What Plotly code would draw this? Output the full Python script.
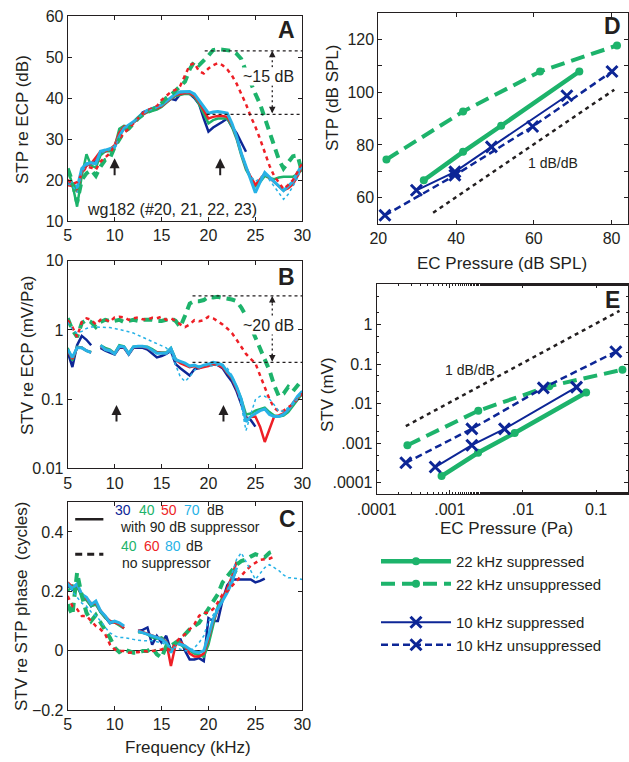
import math
import plotly.graph_objects as go

# ---------------- data ----------------
FREQ = [5.0, 5.5, 6.0, 6.5, 7.0, 7.5, 8.0, 8.5, 9.0, 9.5,
        10.0, 10.5, 11.0, 11.5, 12.0, 12.5, 13.0, 13.5, 14.0, 14.5,
        15.0, 15.5, 16.0, 16.5, 17.0, 17.5, 18.0, 18.5, 19.0, 19.5,
        20.0, 20.5, 21.0, 21.5, 22.0, 22.5, 23.0, 23.5, 24.0, 24.5,
        25.0, 25.5, 26.0, 26.5, 27.0, 27.5, 28.0, 28.5, 29.0, 29.5, 30.0]
N = None

# Panel A: STP re ECP (dB)
A_SUP_30 = [19.0, 18.8, 17.5, 22.0, 23.5, 24.0, 24.5, 26.5, 27.0, 27.5,
            28.0, 31.0, 32.5, 33.2, 34.0, 35.0, 36.5, 37.0, 37.4, 37.8,
            38.2, 39.0, 39.8, 39.5, 41.0, 41.2, 41.0, 40.0, 38.5, 35.0,
            31.8, 32.8, 33.4, 34.2, 35.0, 33.0, 31.4, 29.0, 26.9, N,
            N, N, N, N, N, N, N, N, N, N, N]
A_SUP_40 = [22.5, 19.0, 13.5, 21.0, 26.3, 23.5, 23.0, 26.0, 27.0, 27.0,
            28.0, 32.5, 33.2, 33.0, 34.0, 35.0, 36.0, 36.5, 36.8, 37.2,
            37.8, 38.8, 39.8, 40.5, 40.8, 41.0, 41.0, 40.3, 38.5, 36.0,
            33.8, 34.6, 35.0, 35.0, 35.0, 33.0, 30.0, 26.0, 22.5, 20.5,
            18.5, 19.5, 21.0, 20.5, 20.2, 20.6, 20.8, 20.8, 20.8, 21.5, 22.5]
A_SUP_50 = [18.8, 18.5, 17.2, 22.0, 23.5, 24.0, 25.5, 27.0, 27.0, 27.5,
            28.5, 31.5, 33.0, 33.2, 34.0, 35.0, 36.0, 36.8, 37.2, 37.5,
            38.0, 39.0, 40.0, 40.8, 41.0, 41.2, 41.2, 40.5, 39.0, 37.0,
            35.0, 35.4, 35.6, 35.6, 35.4, 33.5, 30.4, 26.5, 23.0, 20.8,
            18.8, 20.2, 21.6, 20.5, 19.5, 18.5, 17.5, 18.0, 19.0, 21.0, 23.5]
A_SUP_70 = [19.6, 19.2, 18.0, 22.8, 24.0, 24.2, 24.0, 27.0, 27.3, 27.7,
            28.0, 30.6, 32.6, 33.4, 34.2, 35.3, 36.3, 37.0, 37.5, 37.9,
            38.3, 39.2, 40.0, 41.0, 41.5, 41.6, 41.6, 41.0, 39.5, 37.9,
            36.3, 36.6, 36.7, 36.5, 36.3, 33.8, 30.6, 26.5, 23.3, 20.0,
            16.9, 19.5, 21.8, 20.7, 19.6, 18.5, 17.4, 18.5, 19.6, 21.8, 24.0]
A_UNS_40 = [22.8, 19.6, 14.5, 20.0, 21.6, 22.4, 21.0, 23.3, 24.9, 25.3,
            28.0, 30.0, 31.8, 32.5, 33.8, 35.0, 35.9, 36.5, 37.0, 37.8,
            38.7, 40.0, 40.7, 41.8, 42.6, 44.0, 47.0, 48.9, 48.0, 49.0,
            50.3, 51.7, 51.9, 51.8, 51.7, 51.5, 50.8, 49.5, 46.5, 43.5,
            41.0, 38.5, 35.0, 31.5, 28.0, 25.0, 22.8, 24.5, 25.8, 26.0, 21.6]
A_UNS_60 = [20.0, 19.0, 19.5, 21.5, 23.3, 23.0, 22.5, 24.5, 25.5, 26.5,
            28.5, 30.0, 31.5, 32.5, 33.8, 35.0, 36.3, 37.0, 37.5, 38.0,
            39.5, 40.5, 41.5, 42.0, 43.0, 45.5, 48.0, 48.5, 46.5, 46.0,
            47.2, 48.0, 48.5, 48.0, 47.0, 45.5, 43.5, 41.0, 38.5, 35.5,
            33.0, 30.0, 26.5, 23.5, 21.0, 19.5, 17.8, 18.8, 20.0, 22.0, 24.0]
A_UNS_80 = [19.0, 18.6, 17.0, 22.0, 23.6, 24.0, 23.8, 26.6, 27.0, 27.4,
            27.8, 30.4, 32.4, 33.2, 34.0, 35.1, 36.1, 36.8, 37.3, 37.7,
            38.1, 39.0, 39.8, 40.8, 41.3, 41.4, 41.4, 40.8, 39.3, 37.7,
            36.1, 36.4, 36.5, 36.3, 36.1, 33.6, 30.4, 26.3, 23.0, 21.0,
            19.6, 20.5, 21.5, 20.0, 18.5, 16.8, 15.3, 16.5, 18.5, 20.5, 23.5]

# Panel B: STV re ECP (mV/Pa)
B_SUP_30 = [0.48, 0.29, 0.60, 0.82, 0.72, 0.60, N, 0.55, 0.50, 0.47,
            0.44, 0.55, 0.55, 0.44, 0.55, 0.55, 0.55, 0.52, 0.45, 0.40,
            0.42, 0.45, 0.50, 0.32, 0.28, 0.25, 0.22, 0.27, 0.28, 0.30,
            0.31, 0.32, 0.31, 0.28, 0.22, 0.18, 0.13, 0.085, 0.055, 0.05,
            0.04, N, N, N, N, N, N, N, N, N, N]
B_SUP_40 = [0.55, 0.36, 0.57, 0.56, 0.50, 0.48, N, 0.60, 0.55, 0.52,
            0.46, 0.60, 0.58, 0.46, 0.57, 0.58, 0.58, 0.57, 0.53, 0.48,
            0.47, 0.47, 0.55, 0.38, 0.34, 0.32, 0.30, 0.30, 0.29, 0.30,
            0.31, 0.32, 0.32, 0.30, 0.24, 0.20, 0.15, 0.10, 0.06, 0.062,
            0.068, 0.072, 0.075, 0.065, 0.058, 0.056, 0.058, 0.065, 0.08, 0.10, 0.12]
B_SUP_50 = [0.50, 0.38, 0.55, 0.55, 0.50, 0.47, N, 0.58, 0.52, 0.50,
            0.45, 0.57, 0.56, 0.45, 0.56, 0.57, 0.57, 0.55, 0.50, 0.47,
            0.46, 0.46, 0.53, 0.37, 0.33, 0.31, 0.29, 0.30, 0.28, 0.29,
            0.30, 0.32, 0.31, 0.29, 0.24, 0.20, 0.14, 0.095, 0.05, 0.055,
            0.056, 0.04, 0.024, 0.038, 0.056, 0.058, 0.062, 0.07, 0.088, 0.105, 0.125]
B_SUP_70 = [0.52, 0.40, 0.55, 0.55, 0.50, 0.47, N, 0.60, 0.52, 0.50,
            0.45, 0.58, 0.57, 0.45, 0.57, 0.58, 0.58, 0.56, 0.50, 0.46,
            0.46, 0.46, 0.54, 0.37, 0.35, 0.33, 0.30, 0.31, 0.29, 0.31,
            0.32, 0.34, 0.33, 0.31, 0.25, 0.21, 0.15, 0.10, 0.047, 0.056,
            0.062, 0.068, 0.072, 0.06, 0.056, 0.056, 0.06, 0.07, 0.087, 0.11, 0.13]
B_UNS_40 = [1.47, 1.0, 0.79, 1.25, 1.4, 1.3, 1.1, 1.3, 1.4, 1.35,
            1.35, 1.4, 1.3, 1.35, 1.4, 1.35, 1.4, 1.4, 1.4, 1.35,
            1.35, 1.4, 1.47, 1.35, 1.1, 1.6, 2.4, 2.6, 2.6, 2.7,
            3.0, 2.95, 3.0, 2.9, 2.85, 2.75, 2.6, 2.1, 1.6, 1.1,
            0.75, 0.52, 0.38, 0.26, 0.16, 0.11, 0.12, 0.15, 0.13, 0.16, 0.19]
B_UNS_60 = [1.38, 1.1, 0.79, 1.3, 1.47, 1.4, 1.2, 1.4, 1.42, 1.3,
            1.52, 1.55, 1.52, 1.4, 1.47, 1.52, 1.42, 1.4, 1.5, 1.47,
            1.55, 1.4, 1.47, 1.35, 1.2, 1.1, 1.2, 1.38, 1.33, 1.38,
            1.55, 1.47, 1.33, 1.2, 1.05, 0.9, 0.72, 0.56, 0.45, 0.38,
            0.33, 0.22, 0.15, 0.10, 0.075, 0.066, 0.068, 0.075, 0.085, 0.10, 0.12]
B_UNS_80 = [1.3, 1.0, 0.9, 0.95, 1.05, 1.1, 1.1, 1.1, 1.1, 1.08,
            1.05, 1.02, 0.98, 0.94, 0.9, 0.84, 0.78, 0.73, 0.68, 0.63,
            0.6, 0.55, 0.46, 0.31, 0.21, 0.18, 0.21, 0.26, 0.3, 0.31,
            0.3, 0.3, 0.31, 0.3, 0.28, 0.22, 0.15, 0.08, 0.035, 0.06,
            0.098, 0.11, 0.11, 0.10, 0.083, 0.066, 0.068, 0.075, 0.087, 0.10, 0.13]

# Panel C: STV re STP phase (cycles)
C_SUP_30 = [0.22, 0.205, 0.22, 0.185, 0.175, 0.15, 0.16, 0.13, 0.113, 0.092,
            0.098, 0.09, 0.08, N, N, 0.066, 0.07, 0.078, 0.02, 0.05,
            0.027, 0.05, 0.0, 0.02, 0.04, 0.0, -0.03, -0.03, -0.025, -0.035,
            0.11, 0.10, 0.10, 0.17, 0.22, 0.24, 0.24, 0.242, 0.24, 0.24,
            0.23, 0.235, 0.243, N, N, N, N, N, N, N, N]
C_SUP_40 = [0.20, 0.22, 0.215, 0.185, 0.17, 0.15, 0.155, 0.13, 0.11, 0.10,
            0.095, 0.085, 0.075, N, N, 0.062, 0.06, 0.055, 0.045, 0.04,
            0.045, 0.03, 0.0, 0.025, 0.02, 0.01, 0.0, -0.01, -0.015, -0.02,
            0.02, 0.09, 0.15, 0.18, 0.20, 0.24, 0.27, N, N, N,
            N, N, N, N, N, N, N, N, N, N, N]
C_SUP_50 = [0.23, 0.215, 0.22, 0.19, 0.175, 0.16, 0.16, 0.135, 0.115, 0.10,
            0.095, 0.09, 0.075, N, N, 0.068, 0.062, 0.058, 0.05, 0.045,
            0.04, 0.03, -0.052, 0.02, 0.03, 0.015, -0.01, -0.02, -0.02, -0.01,
            0.04, 0.10, 0.135, 0.17, 0.21, 0.25, 0.30, N, N, N,
            N, N, N, N, N, N, N, N, N, N, N]
C_SUP_70 = [0.224, 0.21, 0.225, 0.19, 0.18, 0.156, 0.167, 0.134, 0.117, 0.094,
            0.10, 0.094, 0.083, N, N, 0.066, 0.06, 0.056, 0.05, 0.045,
            0.038, 0.027, -0.007, 0.027, 0.022, 0.016, 0.005, -0.004, -0.007, 0.0,
            0.05, 0.106, 0.14, 0.167, 0.196, 0.23, 0.28, N, N, N,
            N, N, N, N, N, N, N, N, N, N, N]
C_UNS_40 = [0.156, 0.12, 0.263, 0.185, 0.128, 0.10, 0.12, 0.094, 0.07, 0.044,
            0.01, -0.005, 0.004, -0.001, -0.007, -0.007, -0.001, -0.001, 0.01, -0.012,
            -0.024, 0.015, 0.016, 0.027, 0.038, 0.055, 0.072, 0.083, 0.094, 0.117,
            0.14, 0.162, 0.19, 0.23, 0.25, 0.274, 0.29, 0.302, 0.307, 0.317,
            0.325, 0.32, 0.315, 0.33, 0.336, N, N, N, N, N, N]
C_UNS_60 = [0.184, 0.15, 0.14, 0.117, 0.117, 0.10, 0.083, 0.072, 0.055, 0.021,
            0.004, -0.001, -0.001, -0.007, -0.007, -0.005, -0.001, -0.003, -0.001, 0.002,
            0.004, 0.01, -0.001, 0.027, 0.044, 0.055, 0.072, 0.089, 0.117, 0.128,
            0.128, 0.14, 0.162, 0.19, 0.20, 0.218, 0.235, 0.252, 0.27, 0.286,
            0.297, 0.306, 0.308, 0.31, 0.317, N, N, N, N, N, N]
C_UNS_80 = [0.23, 0.20, 0.18, 0.16, 0.15, 0.13, 0.117, 0.10, 0.078, 0.06,
            0.05, 0.044, 0.044, 0.04, 0.038, 0.035, 0.033, 0.033, 0.033, 0.03,
            0.027, 0.02, 0.016, 0.01, 0.005, 0.0, -0.001, 0.01, 0.027, 0.05,
            0.10, 0.12, 0.15, 0.17, 0.20, 0.26, 0.308, 0.33, 0.30, 0.27,
            0.24, 0.26, 0.28, 0.29, 0.28, 0.27, 0.255, 0.246, 0.245, 0.243, 0.24]

# Panel D: STP (dB SPL) vs EC pressure (dB SPL)
D_EC_22_SUP = [31.7, 41.8, 51.6, 71.7]
D_STP_22_SUP = [66.6, 77.4, 87.3, 107.9]
D_EC_22_UNS = [22.1, 41.8, 61.6, 81.4]
D_STP_22_UNS = [74.5, 92.7, 107.9, 117.8]
D_EC_10_SUP = [29.8, 39.7, 49.1, 68.5]
D_STP_10_SUP = [62.8, 69.8, 79.3, 98.7]
D_EC_10_UNS = [21.7, 39.7, 59.7, 80.1]
D_STP_10_UNS = [53.3, 68.5, 87.0, 107.9]
D_REF_X = [34.1, 80.7]
D_REF_Y = [54.3, 101.0]

# Panel E: STV (mV) vs EC pressure (Pa)
E_EC_22_SUP = [7.7e-4, 2.43e-3, 7.7e-3, 0.073]
E_STV_22_SUP = [1.48e-4, 5.75e-4, 1.82e-3, 0.019]
E_EC_22_UNS = [2.63e-4, 2.45e-3, 0.0229, 0.229]
E_STV_22_UNS = [8.9e-4, 6.6e-3, 0.0275, 0.072]
E_EC_10_SUP = [6.3e-4, 2.0e-3, 5.6e-3, 0.054]
E_STV_10_SUP = [2.5e-4, 8.9e-4, 2.3e-3, 0.026]
E_EC_10_UNS = [2.5e-4, 2.0e-3, 0.019, 0.186]
E_STV_10_UNS = [3.2e-4, 2.3e-3, 0.025, 0.204]
E_REF_X = [2.5e-4, 0.209]
E_REF_Y = [2.7e-3, 2.2]

# ---------------- style ----------------
GREEN = "#1db36b"
RED = "#ee1f26"
NAVY = "#0d2696"
CYAN = "#27b2e6"
INK = "#231f20"
FONT = "Liberation Sans, Arial, sans-serif"

fig = go.Figure()

SOLID = [("30", NAVY, 2.5), ("40", GREEN, 2.5), ("50", RED, 2.5), ("70", CYAN, 3)]
DASHED = [("40", GREEN, 4, "9px,6px"), ("60", RED, 2.5, "4px,4px"), ("80", CYAN, 1.5, "3px,3px")]

panels = [
    ("x", "y", [A_SUP_30, A_SUP_40, A_SUP_50, A_SUP_70], [A_UNS_40, A_UNS_60, A_UNS_80]),
    ("x2", "y2", [B_SUP_30, B_SUP_40, B_SUP_50, B_SUP_70], [B_UNS_40, B_UNS_60, B_UNS_80]),
    ("x3", "y3", [C_SUP_30, C_SUP_40, C_SUP_50, C_SUP_70], [C_UNS_40, C_UNS_60, C_UNS_80]),
]
for xa, ya, sups, unss in panels:
    for (lvl, col, w), ys in zip(SOLID, sups):
        fig.add_trace(go.Scatter(x=FREQ, y=ys, xaxis=xa, yaxis=ya, mode="lines",
                                 line=dict(color=col, width=w), showlegend=False,
                                 connectgaps=False, hoverinfo="skip"))
    for (lvl, col, w, d), ys in zip(DASHED, unss):
        fig.add_trace(go.Scatter(x=FREQ, y=ys, xaxis=xa, yaxis=ya, mode="lines",
                                 line=dict(color=col, width=w, dash=d), showlegend=False,
                                 connectgaps=False, hoverinfo="skip"))

# D and E series
series = [
    ("22 kHz suppressed", "g22", dict(color=GREEN, width=4.5), dict(symbol="circle", size=8, color=GREEN),
     D_EC_22_SUP, D_STP_22_SUP, E_EC_22_SUP, E_STV_22_SUP),
    ("22 kHz unsuppressed", "g22", dict(color=GREEN, width=4, dash="14px,7px"), dict(symbol="circle", size=8, color=GREEN),
     D_EC_22_UNS, D_STP_22_UNS, E_EC_22_UNS, E_STV_22_UNS),
    ("10 kHz suppressed", "g10", dict(color=NAVY, width=2), dict(symbol="x-thin", size=11, color=NAVY, line=dict(color=NAVY, width=3)),
     D_EC_10_SUP, D_STP_10_SUP, E_EC_10_SUP, E_STV_10_SUP),
    ("10 kHz unsuppressed", "g10", dict(color=NAVY, width=2.5, dash="7px,4px"), dict(symbol="x-thin", size=11, color=NAVY, line=dict(color=NAVY, width=3)),
     D_EC_10_UNS, D_STP_10_UNS, E_EC_10_UNS, E_STV_10_UNS),
]
fig.add_trace(go.Scatter(x=D_REF_X, y=D_REF_Y, xaxis="x4", yaxis="y4", mode="lines",
                         line=dict(color=INK, width=2.5, dash="4px,4px"), showlegend=False, hoverinfo="skip"))
fig.add_trace(go.Scatter(x=E_REF_X, y=E_REF_Y, xaxis="x5", yaxis="y5", mode="lines",
                         line=dict(color=INK, width=2.5, dash="4px,4px"), showlegend=False, hoverinfo="skip"))
for name, grp, ln, mk, dx, dy, ex, ey in series:
    fig.add_trace(go.Scatter(x=dx, y=dy, xaxis="x4", yaxis="y4", mode="lines+markers",
                             line=ln, marker=mk, name=name, legendgroup=grp, showlegend=True))
    fig.add_trace(go.Scatter(x=ex, y=ey, xaxis="x5", yaxis="y5", mode="lines+markers",
                             line=ln, marker=mk, name=name, legendgroup=grp, showlegend=False))

# ---------------- axes ----------------
def axis(**kw):
    base = dict(showline=True, linecolor=INK, linewidth=1, mirror="ticks", ticks="inside",
                ticklen=4, tickwidth=1, tickcolor=INK, showgrid=False, zeroline=False,
                automargin=False, tickfont=dict(size=16, color=INK, family=FONT))
    base.update(kw)
    return base

XD = [67.7 / 629, 302.3 / 629]
FT = [5, 10, 15, 20, 25, 30]
fig.update_layout(
    xaxis=axis(domain=XD, range=[5, 30], tickvals=FT, anchor="y"),
    yaxis=axis(domain=[1 - 221 / 762, 1 - 16 / 762], range=[10, 60], tickvals=[10, 20, 30, 40, 50, 60], anchor="x"),
    xaxis2=axis(domain=XD, range=[5, 30], tickvals=FT, anchor="y2"),
    yaxis2=axis(domain=[1 - 468.3 / 762, 1 - 260.7 / 762], type="log", range=[-2, 1],
                tickvals=[0.01, 0.1, 1, 10], ticktext=["0.01", "0.1", "1", "10"], anchor="x2"),
    xaxis3=axis(domain=XD, range=[5, 30], tickvals=FT, anchor="y3"),
    yaxis3=axis(domain=[1 - 710 / 762, 1 - 502.3 / 762], range=[-0.2, 0.5],
                tickvals=[-0.2, 0, 0.2, 0.4], ticktext=["\u22120.2", "0", "0.2", "0.4"],
                zeroline=True, zerolinecolor=INK, zerolinewidth=1, anchor="x3"),
    xaxis4=axis(domain=[378.3 / 629, 628.3 / 629], range=[20, 84.3], tickvals=[20, 40, 60, 80], anchor="y4"),
    yaxis4=axis(domain=[1 - 224 / 762, 1 - 13.3 / 762], range=[50, 130],
                tickvals=[60, 70, 80, 90, 100, 110, 120], ticktext=["60", "", "80", "", "100", "", "120"], anchor="x4"),
    xaxis5=axis(domain=[376.7 / 629, 628.3 / 629], type="log", range=[-4, -0.56],
                tickvals=[1e-4, 1e-3, 1e-2, 1e-1], ticktext=[".0001", ".001", ".01", "0.1"],
                minor=dict(ticks="inside", ticklen=2, tickcolor=INK, showgrid=False), anchor="y5"),
    yaxis5=axis(domain=[1 - 494.3 / 762, 1 - 284 / 762], type="log", range=[-4.29, 1.02],
                tickvals=[1e-4, 1e-3, 1e-2, 1e-1, 1], ticktext=[".0001", ".001", ".01", "0.1", "1"],
                minor=dict(ticks="inside", ticklen=2, tickcolor=INK, showgrid=False), anchor="x5"),
)

# ---------------- annotations & shapes ----------------
ann = []
shp = []

def txt(x, y, t, xref, yref, size=15, color=INK, xanchor="center", yanchor="middle", angle=0, bg=None):
    d = dict(x=x, y=y, text=t, xref=xref, yref=yref, showarrow=False, textangle=angle,
             font=dict(size=size, color=color, family=FONT), xanchor=xanchor, yanchor=yanchor)
    if bg:
        d["bgcolor"] = bg
        d["borderpad"] = 0
    ann.append(d)

def arrow(x, y, ax, ay, xref, yref, width=2):
    ann.append(dict(x=x, y=y, ax=ax, ay=ay, xref=xref, yref=yref, axref=xref, ayref=yref,
                    showarrow=True, arrowhead=2, arrowsize=1, arrowwidth=width, arrowcolor=INK, text=""))

def hline(x0, x1, y, xref, yref):
    shp.append(dict(type="line", x0=x0, x1=x1, y0=y, y1=y, xref=xref, yref=yref,
                    line=dict(color=INK, width=1.3, dash="3px,3px")))

# axis titles
txt(23 / 629, 1 - 120 / 762, "STP re ECP (dB)", "paper", "paper", 17, angle=-90)
txt(27 / 629, 1 - 356 / 762, "STV re ECP (mV/Pa)", "paper", "paper", 17, angle=-90)
txt(21 / 629, 1 - 607 / 762, "STV re STP phase\u00a0 (cycles)", "paper", "paper", 17, angle=-90)
txt(188 / 629, 1 - 747 / 762, "Frequency (kHz)", "paper", "paper", 17)
txt(332 / 629, 1 - 98 / 762, "STP (dB SPL)", "paper", "paper", 17, angle=-90)
txt(502 / 629, 1 - 263 / 762, "EC Pressure (dB SPL)", "paper", "paper", 17)
txt(327 / 629, 1 - 395 / 762, "STV (mV)", "paper", "paper", 17, angle=-90)
txt(506 / 629, 1 - 528 / 762, "EC Pressure (Pa)", "paper", "paper", 17)

# panel letters
txt(28.3, 56.6, "<b>A</b>", "x", "y", 23)
txt(28.3, 0.77, "<b>B</b>", "x2", "y2", 23)
txt(28.4, 0.443, "<b>C</b>", "x3", "y3", 23)
txt(80.3, 125.1, "<b>D</b>", "x4", "y4", 23)
txt(-0.77, 0.61, "<b>E</b>", "x5", "y5", 23)

# panel A decorations
txt(16.1, 12.8, "wg182 (#20, 21, 22, 23)", "x", "y", 16)
hline(19.6, 30, 51.5, "x", "y")
hline(19.8, 30, 36.0, "x", "y")
shp.append(dict(type="line", x0=26.8, x1=26.8, y0=36.5, y1=51.0, xref="x", yref="y",
                line=dict(color=INK, width=1.3, dash="2px,3px")))
arrow(26.8, 51.5, 26.8, 49.8, "x", "y", 1.3)
arrow(26.8, 36.3, 26.8, 38.0, "x", "y", 1.3)
txt(26.4, 45.2, "~15 dB", "x", "y", 16, bg="white")
arrow(10.0, 25.3, 10.0, 20.8, "x", "y")
arrow(21.25, 25.3, 21.25, 20.8, "x", "y")

# panel B decorations
hline(18.3, 30, 3.1, "x2", "y2")
hline(18.3, 30, 0.34, "x2", "y2")
shp.append(dict(type="line", x0=26.8, x1=26.8, y0=0.36, y1=2.95, xref="x2", yref="y2",
                line=dict(color=INK, width=1.3, dash="2px,3px")))
arrow(26.8, math.log10(3.1), 26.8, math.log10(2.3), "x2", "y2", 1.3)
arrow(26.8, math.log10(0.35), 26.8, math.log10(0.47), "x2", "y2", 1.3)
txt(26.4, math.log10(1.17), "~20 dB", "x2", "y2", 16, bg="white")
arrow(10.2, math.log10(0.082), 10.2, math.log10(0.045), "x2", "y2")
arrow(21.6, math.log10(0.082), 21.6, math.log10(0.045), "x2", "y2")

# panel C key
shp.append(dict(type="line", x0=5.8, x1=8.8, y0=0.443, y1=0.443, xref="x3", yref="y3",
                line=dict(color=INK, width=2.5)))
shp.append(dict(type="line", x0=5.8, x1=8.8, y0=0.325, y1=0.325, xref="x3", yref="y3",
                line=dict(color=INK, width=3, dash="7px,5px")))
for xv, t, c in [(10.9, "30", NAVY), (13.5, "40", GREEN), (15.8, "50", RED), (18.2, "70", CYAN), (20.8, "dB", INK)]:
    txt(xv, 0.473, t, "x3", "y3", 14, c)
txt(10.35, 0.416, "with 90 dB suppressor", "x3", "y3", 14, xanchor="left")
for xv, t, c in [(11.55, "40", GREEN), (13.95, "60", RED), (16.25, "80", CYAN), (18.5, "dB", INK)]:
    txt(xv, 0.353, t, "x3", "y3", 14, c)
txt(10.55, 0.297, "no suppressor", "x3", "y3", 14, xanchor="left")

# D and E slope labels
txt(64.9, 73.0, "1 dB/dB", "x4", "y4", 14)
txt(-2.73, -1.14, "1 dB/dB", "x5", "y5", 14)

fig.update_layout(
    template="none",
    width=629, height=762, margin=dict(l=0, r=0, t=0, b=0, pad=0), autosize=False,
    paper_bgcolor="white", plot_bgcolor="white",
    font=dict(family=FONT, color=INK, size=15),
    annotations=ann, shapes=shp,
    legend=dict(x=376 / 629, y=1 - 545 / 762, xanchor="left", yanchor="top",
                font=dict(size=15, color=INK, family=FONT), itemwidth=70,
                tracegroupgap=16, bgcolor="rgba(0,0,0,0)", borderwidth=0, traceorder="grouped"),
)

fig.write_html("out.html")
